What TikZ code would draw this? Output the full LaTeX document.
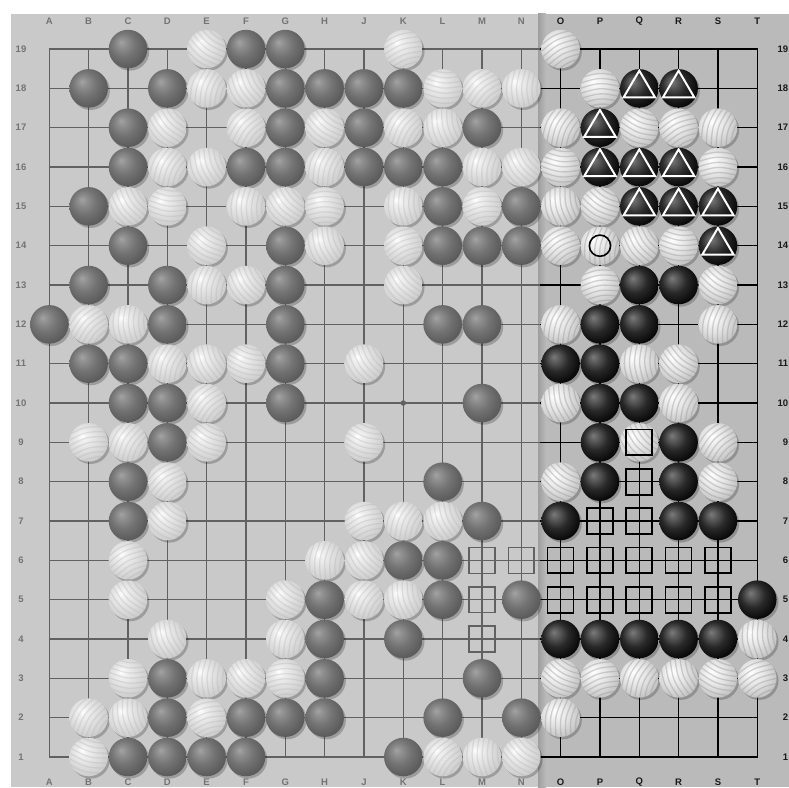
\documentclass[tikz,border=0pt]{standalone}
\usepackage{fontspec}
\setsansfont{Liberation Sans}
\pgfdeclareradialshading{stoneG}{\pgfpoint{-9bp}{9bp}}{color(0bp)=(black!36); color(6bp)=(black!44); color(16bp)=(black!55); color(28bp)=(black!64); color(40bp)=(black!69); color(50bp)=(black!71)}
\pgfdeclareradialshading{stoneB}{\pgfpoint{-9bp}{9bp}}{color(0bp)=(black!52); color(6bp)=(black!64); color(16bp)=(black!84); color(28bp)=(black!96); color(40bp)=(black); color(50bp)=(black)}
\pgfdeclareradialshading{stoneW}{\pgfpoint{-9bp}{9bp}}{color(0bp)=(white); color(6bp)=(black!4); color(16bp)=(black!11); color(28bp)=(black!22); color(40bp)=(black!30); color(50bp)=(black!32)}
\pgfdeclareradialshading{stoneD}{\pgfpoint{-9bp}{9bp}}{color(0bp)=(white); color(6bp)=(black!6); color(16bp)=(black!12); color(28bp)=(black!19); color(40bp)=(black!24); color(50bp)=(black!26)}
\tikzset{
  gline/.style={draw=black!62, line width=1.4pt, line cap=rect},
  bline/.style={draw=black, line width=1.4pt, line cap=rect},
  lbl/.style={font=\sffamily\bfseries\fontsize{9.5}{11}\selectfont, inner sep=0pt},
  lblL/.style={lbl, text=black!55},
  lblR/.style={lbl, text=black!90},
  trimark/.style={draw=white, line width=2pt, line join=miter},
  sqG/.style={draw=black!62, line width=1.6pt},
  sqB/.style={draw=black, line width=1.7pt},
  circmark/.style={draw=black, line width=1.6pt},
  shadowst/.style={fill=black, opacity=0.22},
  stripeW/.style={draw=black!40, line width=1.3pt, opacity=0.42},
  stripeD/.style={draw=black!30, line width=1.3pt, opacity=0.32},
}
\newcommand{\gostone}[3]{\shade[shading=#3] (#1,#2) circle (0.49);}
\newcommand{\clamstone}[4]{%
  \begin{scope}
    \clip (#1,#2) circle (0.49);
    \shade[shading=#3] (#1,#2) circle (0.49);
    \pgfmathsetmacro{\clamang}{mod(#1*47+#2*71,180)}
    \begin{scope}[shift={(#1,#2)}, rotate=\clamang]
      \foreach \k in {-0.52,-0.39,...,0.52} {\draw[#4] (-0.6,\k) .. controls (0,\k+0.16) .. (0.6,\k);}
    \end{scope}
  \end{scope}}
\begin{document}
\begin{tikzpicture}[x=1pt,y=1pt]
\useasboundingbox (0,0) rectangle (789,787);
\fill[white] (0,0) rectangle (789,787);
% board
\fill[black!21] (11,0) rectangle (789,773);
\fill[black!27] (540,0) rectangle (789,773);
\shade[left color=black!38, right color=black!27] (538,0) rectangle (546,773);
\begin{scope}[shift={(10pt,-9.33pt)}, x=39.33pt, y=39.33pt]
  % grid, dim part
  \begin{scope}
    \clip (-1,-1) rectangle (13.476,21);
    \foreach \k in {1,...,19} {\draw[gline] (1,\k) -- (19,\k); \draw[gline] (\k,1) -- (\k,19);}
  \end{scope}
  % grid, bright part
  \begin{scope}
    \clip (13.476,-1) rectangle (21,21);
    \foreach \k in {1,...,19} {\draw[bline] (1,\k) -- (19,\k); \draw[bline] (\k,1) -- (\k,19);}
  \end{scope}
  \fill[black!62] (10,10) circle (0.07);
  % stone lists
  \def\listG{3/19,6/19,7/19,2/18,4/18,7/18,8/18,9/18,10/18,3/17,7/17,9/17,12/17,3/16,6/16,7/16,9/16,10/16,11/16,2/15,11/15,13/15,3/14,7/14,11/14,12/14,13/14,2/13,4/13,7/13,1/12,4/12,7/12,11/12,12/12,2/11,3/11,7/11,3/10,4/10,7/10,12/10,4/9,3/8,11/8,3/7,12/7,10/6,11/6,8/5,11/5,13/5,8/4,10/4,4/3,8/3,12/3,4/2,6/2,7/2,8/2,11/2,13/2,3/1,4/1,5/1,6/1,10/1}
  \def\listD{5/19,10/19,5/18,6/18,11/18,12/18,13/18,4/17,6/17,8/17,10/17,11/17,4/16,5/16,8/16,12/16,13/16,3/15,4/15,6/15,7/15,8/15,10/15,12/15,5/14,8/14,10/14,5/13,6/13,10/13,2/12,3/12,4/11,5/11,6/11,9/11,5/10,2/9,3/9,5/9,9/9,4/8,4/7,9/7,10/7,11/7,3/6,8/6,9/6,3/5,7/5,9/5,10/5,4/4,7/4,3/3,5/3,6/3,7/3,2/2,3/2,5/2,2/1,11/1,12/1,13/1}
  \def\listW{14/19,15/18,14/17,16/17,17/17,18/17,14/16,18/16,14/15,15/15,14/14,15/14,16/14,17/14,15/13,18/13,14/12,18/12,16/11,17/11,14/10,17/10,16/9,18/9,14/8,18/8,19/4,14/3,15/3,16/3,17/3,18/3,19/3,14/2}
  \def\listB{16/18,17/18,15/17,15/16,16/16,17/16,16/15,17/15,18/15,18/14,16/13,17/13,15/12,16/12,14/11,15/11,15/10,16/10,15/9,17/9,15/8,17/8,14/7,17/7,18/7,19/5,14/4,15/4,16/4,17/4,18/4}
  % shadows
  \foreach \i/\r in \listG {\fill[shadowst] (\i+0.05,\r-0.06) circle (0.49);}
  \foreach \i/\r in \listD {\fill[shadowst] (\i+0.05,\r-0.06) circle (0.49);}
  \foreach \i/\r in \listW {\fill[shadowst] (\i+0.05,\r-0.06) circle (0.49);}
  \foreach \i/\r in \listB {\fill[shadowst] (\i+0.05,\r-0.06) circle (0.49);}
  % stones
  \foreach \i/\r in \listG {\gostone{\i}{\r}{stoneG}}
  \foreach \i/\r in \listB {\gostone{\i}{\r}{stoneB}}
  \foreach \i/\r in \listD {\clamstone{\i}{\r}{stoneD}{stripeD}}
  \foreach \i/\r in \listW {\clamstone{\i}{\r}{stoneW}{stripeW}}
  % markers
  \foreach \i/\r in {16/18,17/18,15/17,15/16,16/16,17/16,16/15,17/15,18/15,18/14}
    {\draw[trimark] (\i,\r+0.45) -- (\i-0.40,\r-0.23) -- (\i+0.40,\r-0.23) -- cycle;}
  \draw[circmark] (15,14) circle (0.27);
  \foreach \i/\r in {12/6,13/6,12/5,12/4}
    {\draw[sqG] (\i-0.33,\r-0.33) rectangle (\i+0.33,\r+0.33);}
  \foreach \i/\r in {14/6,15/6,16/6,17/6,18/6,14/5,15/5,16/5,17/5,18/5,15/7,16/7,16/8,16/9}
    {\draw[sqB] (\i-0.33,\r-0.33) rectangle (\i+0.33,\r+0.33);}
  % labels
  \foreach \i/\l in {1/A,2/B,3/C,4/D,5/E,6/F,7/G,8/H,9/J,10/K,11/L,12/M,13/N}
    {\node[lblL] (top\l) at (\i,19.70) {\l}; \node[lblL] (bot\l) at (\i,0.37) {\l};}
  \foreach \i/\l in {14/O,15/P,16/Q,17/R,18/S,19/T}
    {\node[lblR] (top\l) at (\i,19.70) {\l}; \node[lblR] (bot\l) at (\i,0.37) {\l};}
  \foreach \r in {1,...,19}
    {\node[lblL] (left\r) at (0.28,\r) {\r}; \node[lblR, anchor=east] (right\r) at (19.79,\r) {\r};}
\end{scope}
\end{tikzpicture}
\end{document}
